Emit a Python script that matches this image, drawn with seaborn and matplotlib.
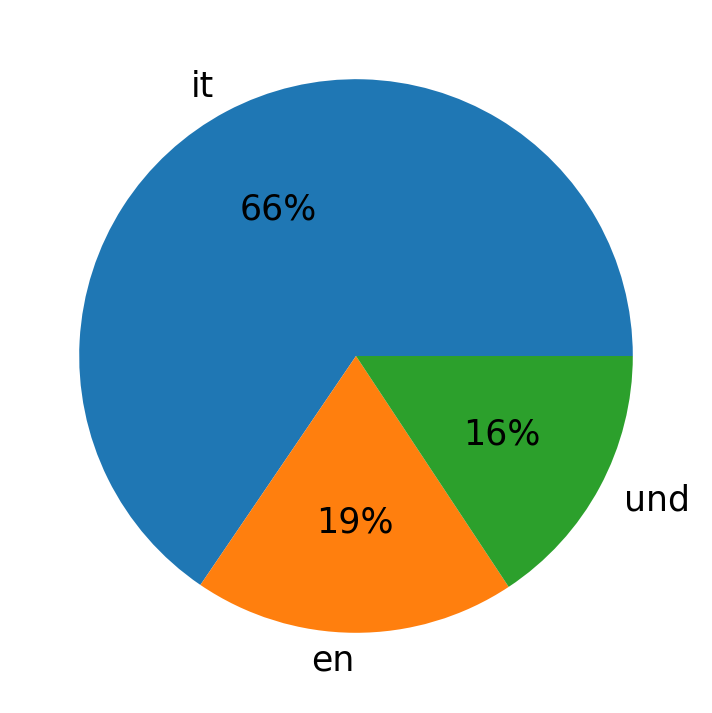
import matplotlib
matplotlib.use("Agg")
import matplotlib.pyplot as plt
import seaborn as sns

languages = ["it", "en", "und"]
shares = [65.5, 18.8, 15.7]

colors = sns.color_palette("tab10", len(languages))

fig = plt.figure(figsize=(7.12, 7.13), dpi=100)
ax = fig.add_axes([10 / 712, 11 / 713, 692 / 712, 692 / 713])
ax.pie(shares, labels=languages, colors=colors, autopct="%.0f%%",
       textprops={"fontsize": 25})
plt.savefig("out.png", dpi=100)
